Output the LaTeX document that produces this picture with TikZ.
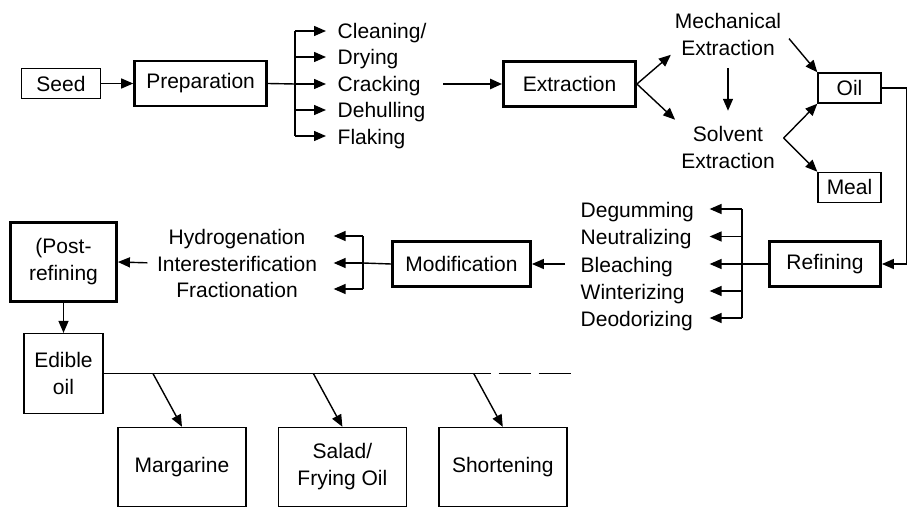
\documentclass[tikz,border=0pt]{standalone}
\usepackage{fontspec}
\setmainfont{Liberation Sans}
\usetikzlibrary{arrows.meta, positioning, calc}

\begin{document}
\begin{tikzpicture}[
        x=1pt, y=-1pt,
        line width=1.4pt,
        every node/.style={font=\fontsize{21}{27}\selectfont, align=center},
        thinbox/.style={draw, line width=1.4pt, inner sep=3pt},
        thickbox/.style={draw, line width=2.8pt, inner sep=3pt},
        steptext/.style={inner sep=2pt, text height=16pt, text depth=0pt},
        arr/.style={-{Triangle[length=12pt,width=10pt]}}
        ]
        \useasboundingbox (0,0) rectangle (910,508);

        % Seed to extraction
        \node[thinbox, minimum width=79pt, minimum height=30pt] (seed) at (61,83.5) {Seed};
        \node[thickbox, minimum width=132pt, minimum height=45pt, right=32pt of seed] (prep) {Preparation};
        \node[steptext, anchor=west] (clean) at (335,31) {Cleaning/};
        \node[steptext, anchor=west] (dry) at (335,57) {Drying};
        \node[steptext, anchor=west] (crack) at (335,84) {Cracking};
        \node[steptext, anchor=west] (dehull) at (335,110) {Dehulling};
        \node[steptext, anchor=west] (flake) at (335,136) {Flaking};
        \node[thickbox, minimum width=132pt, minimum height=45pt] (extract) at (569.5,84) {Extraction};
        \node (mech) at (728,34) {Mechanical\\Extraction};
        \node (solv) at (728,147) {Solvent\\Extraction};
        \node[thinbox, minimum width=63pt, minimum height=30pt] (oil) at (849.5,88) {Oil};
        \node[thinbox, minimum width=63pt, minimum height=30pt, below=68pt of oil] (meal) {Meal};

        % Refining and modification
        \node[thickbox, minimum width=111pt, minimum height=45pt] (refine) at (825,264) {Refining};
        \node[steptext, anchor=west] (degum) at (578,209) {Degumming};
        \node[steptext, anchor=west] (neutral) at (578,236.5) {Neutralizing};
        \node[steptext, anchor=west] (bleach) at (578,264) {Bleaching};
        \node[steptext, anchor=west] (winter) at (578,291) {Winterizing};
        \node[steptext, anchor=west] (deodor) at (578,318) {Deodorizing};
        \node[thickbox, minimum width=138pt, minimum height=45pt] (modif) at (461.5,264) {Modification};
        \node[steptext] (hydro) at (237,236) {Hydrogenation};
        \node[steptext] (inter) at (237,263) {Interesterification};
        \node[steptext] (fract) at (237,289) {Fractionation};
        \node[thickbox, minimum width=106pt, minimum height=79pt] (post) at (63.5,262) {(Post-\\refining};

        % Products
        \node[thinbox, minimum width=79pt, minimum height=80pt, below=30pt of post] (edible) {Edible\\oil};
        \node[thinbox, minimum width=128pt, minimum height=79pt] (marg) at (182,467) {Margarine};
        \node[thinbox, minimum width=128pt, minimum height=79pt, right=31pt of marg] (salad) {Salad/\\Frying Oil};
        \node[thinbox, minimum width=128pt, minimum height=79pt, right=31pt of salad] (short) {Shortening};

        % Arrows
        \draw[arr] (seed) -- (prep);
        \coordinate (prepbus) at (295,84);
        \draw (prep.east) -- (prepbus);
        \draw (prepbus |- clean) -- (prepbus |- flake);
        \foreach \n in {clean,dry,crack,dehull,flake}
            \draw[arr, shorten >=9pt] (prepbus |- \n) -- (\n.west);
        \draw[arr, line width=2.4pt, shorten <=20pt] (crack.east) -- (extract.west);

        \draw[arr] (extract.east) -- (mech.200);
        \draw[arr, shorten >=3pt] (extract.east) -- (solv.north west);
        \draw[arr, shorten <=9pt, shorten >=11pt] (mech) -- (solv);
        \draw[arr, shorten <=6pt] (mech.east) -- (oil.north west);
        \coordinate (solvfork) at ($(solv.east)+(5,-9)$);
        \draw[arr] (solvfork) -- (oil.south west);
        \draw[arr] (solvfork) -- (meal.north west);
        \draw[arr] (oil.east) -- ++(25,0) |- (refine.east);

        \coordinate (refbus) at (742,264);
        \draw (refine.west) -- (refbus);
        \draw (refbus |- degum) -- (refbus |- deodor);
        \foreach \n in {degum,neutral,bleach,winter,deodor}
            \draw[arr, shorten >=13pt] (refbus |- \n) -- (\n -| degum.east);
        \draw[arr, shorten <=13pt] (bleach.west) -- (modif.east);

        \coordinate (modbus) at (363,263);
        \draw (modif.west) -- (modbus);
        \draw (modbus |- hydro) -- (modbus |- fract);
        \foreach \n in {hydro,inter,fract}
            \draw[arr, shorten >=14pt] (modbus |- \n) -- (\n -| inter.east);
        \draw[arr, shorten <=7pt] (inter.west) -- (post.east);
        \draw[arr] (post) -- (edible);

        \draw (edible.east) -- ++(387,0) coordinate (solidend);
        \draw[dash pattern=on 32pt off 8pt] ([xshift=8pt]solidend) -- ++(72,0);
        \foreach \n in {marg,salad,short}
            \draw[arr] ([xshift=-29pt]\n.north |- edible.east) -- (\n.north);

\end{tikzpicture}
\end{document}
